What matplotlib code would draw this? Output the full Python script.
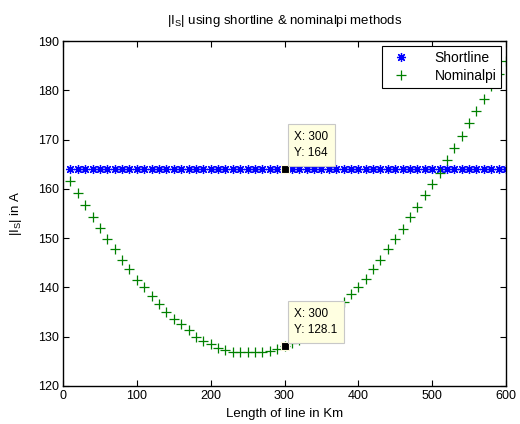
import numpy as np
import matplotlib
matplotlib.use("Agg")
import matplotlib.pyplot as plt

plt.rcParams["font.family"] = ["Liberation Sans", "DejaVu Sans"]
plt.rcParams["mathtext.fontset"] = "custom"
plt.rcParams["mathtext.rm"] = "Liberation Sans"

# line length in km
length_km = np.arange(10, 610, 10)

# sending-end current magnitude, short line model (constant)
shortline_is = np.full(length_km.shape, 164.0)

# sending-end current magnitude, nominal pi model
nominalpi_is = np.array([
    161.6, 159.1, 156.7, 154.3, 152.0, 149.8, 147.8, 145.6, 143.7, 141.6,
    140.1, 138.3, 136.6, 135.1, 133.6, 132.5, 131.3, 130.0, 129.2, 128.5,
    127.7, 127.3, 127.0, 126.9, 126.8, 126.8, 127.0, 127.2, 127.6, 128.1,
    128.7, 129.4, 130.3, 131.4, 132.6, 134.0, 135.5, 137.0, 138.7, 140.1,
    141.8, 143.7, 145.6, 147.7, 149.8, 151.8, 154.2, 156.4, 158.7, 160.9,
    163.3, 165.8, 168.3, 170.8, 173.3, 175.8, 178.2, 180.8, 183.4, 185.9,
])

tip_x = 300
tip_short = 164
tip_nominal = 128.1

fig = plt.figure(figsize=(5.2, 4.24), dpi=100)
ax = fig.add_axes([63 / 520, 1 - 386 / 424, 443 / 520, 345 / 424])

ax.plot(length_km, shortline_is, linestyle="none", marker=(8, 2, 0), color="#0000ff",
        markersize=6.5, markeredgewidth=0.9, label="Shortline")
ax.plot(length_km, nominalpi_is, linestyle="none", marker="+", color="#008000",
        markersize=7, markeredgewidth=0.9, label="Nominalpi")

# data tips
for yv, label in [(tip_short, "164"), (tip_nominal, "128.1")]:
    ax.plot(tip_x, yv, marker="s", color="black", markersize=5.5, zorder=6,
            markeredgecolor="#fffbe0", markeredgewidth=0.8)
    ax.annotate(f"X: {tip_x}\nY: {label}", xy=(tip_x, yv), xytext=(7, 7),
                textcoords="offset points", fontsize=8.5, linespacing=1.5,
                ha="left", va="bottom", zorder=7,
                bbox=dict(boxstyle="square,pad=0.55", facecolor="#ffffe1",
                          edgecolor="#c8c8c8", linewidth=0.8))

ax.set_xlim(0, 600)
ax.set_ylim(120, 190)
ax.set_xticks(np.arange(0, 601, 100))
ax.set_yticks(np.arange(120, 191, 10))
ax.tick_params(direction="in", length=4, width=0.8, top=True, right=True,
               labelsize=9, pad=3)
for sp in ax.spines.values():
    sp.set_linewidth(1.0)

ax.set_title("|I$_\\mathregular{S}$| using shortline & nominalpi methods",
             fontsize=9.5, pad=12)
ax.set_xlabel("Length of line in Km", fontsize=9.5, labelpad=4)
ax.set_ylabel("|I$_\\mathregular{S}$| in A", fontsize=9.5, labelpad=10)

leg = ax.legend(loc="upper right", fontsize=10, frameon=True, fancybox=False,
                borderaxespad=0.35, handletextpad=1.4, borderpad=0.35,
                handlelength=2.0, labelspacing=0.3)
leg.get_frame().set_edgecolor("black")
leg.get_frame().set_linewidth(0.8)
leg.get_frame().set_alpha(1)
leg.set_zorder(8)

fig.savefig("out.png", dpi=100)
